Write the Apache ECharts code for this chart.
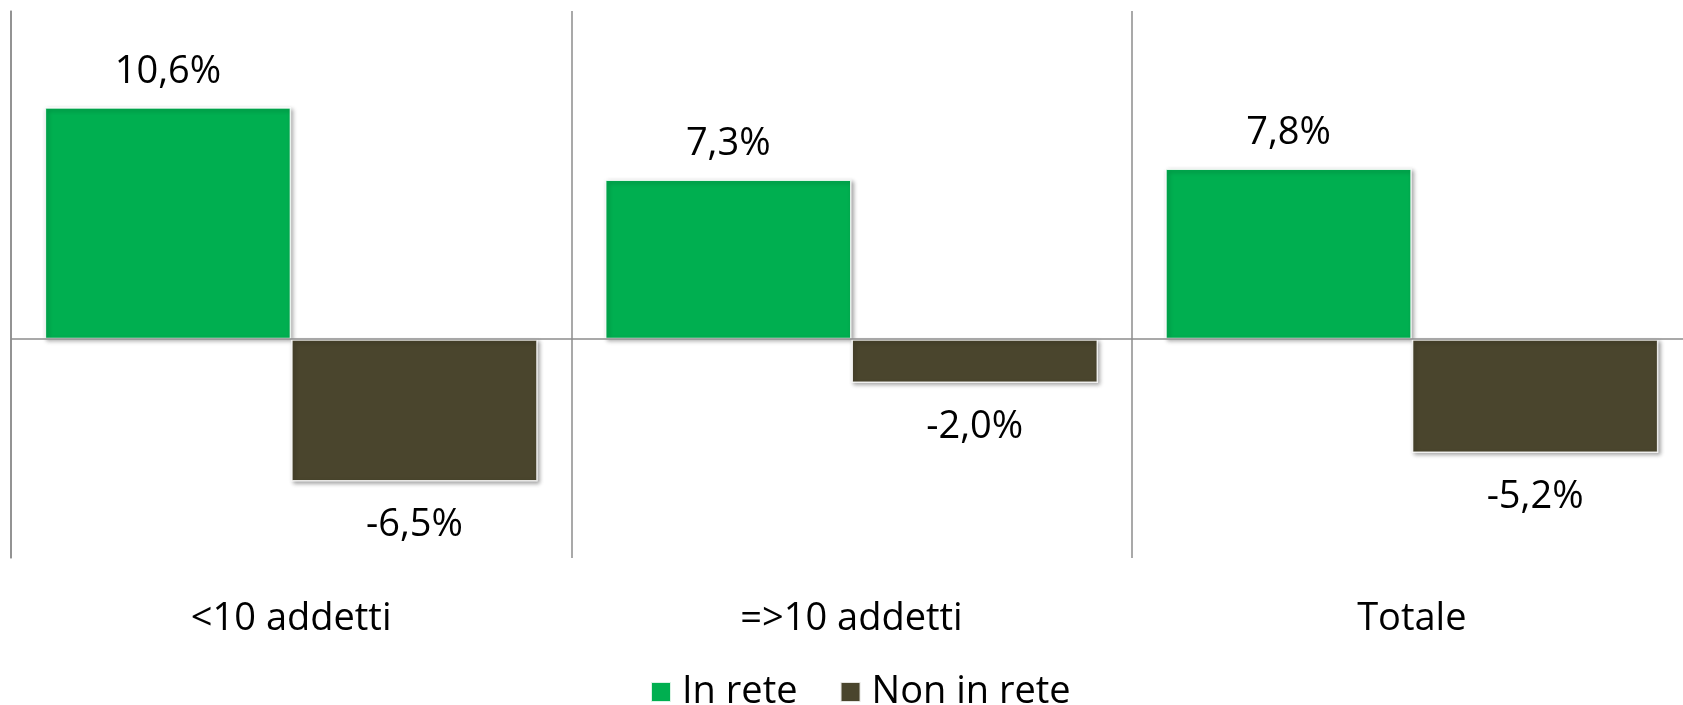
<!DOCTYPE html>
<html>
<head>
<meta charset="utf-8">
<style>
  html, body { margin: 0; padding: 0; background: #fff; }
  #chart { width: 1683px; height: 705px; }
</style>
<script src="https://cdn.jsdelivr.net/npm/echarts@6/dist/echarts.min.js"></script>
</head>
<body>
<div id="chart"></div>
<script>
// categories and values
const categories = ["<10 addetti", "=>10 addetti", "Totale"];
const inRete = [10.6, 7.3, 7.8];
const nonInRete = [-6.5, -2.0, -5.2];
const seriesNames = ["In rete", "Non in rete"];

const FONT = "Open Sans";
const AXIS_GREY = "#8c8c8c";

function pct(v) {
  return v.toFixed(1).replace(".", ",") + "%";
}

const barStyle = function (color) {
  return {
    color: color,
    borderColor: "rgba(255,255,255,0.85)",
    borderWidth: 1.5,
    shadowBlur: 4,
    shadowOffsetX: 2,
    shadowOffsetY: 2,
    shadowColor: "rgba(0,0,0,0.35)"
  };
};

const chart = echarts.init(document.getElementById("chart"));
chart.setOption({
  backgroundColor: "#fff",
  animation: false,
  textStyle: { fontFamily: FONT },
  grid: { left: 11, top: 11, right: -9, bottom: 147, outerBoundsMode: "none" },
  legend: {
    data: seriesNames,
    left: 645,
    top: 668,
    itemWidth: 20,
    itemHeight: 20,
    itemGap: 42,
    icon: "rect",
    textStyle: { fontFamily: FONT, fontSize: 38, color: "#000", padding: [0, 0, 0, 6] }
  },
  xAxis: {
    type: "category",
    data: categories,
    axisLine: { show: false, onZero: false },
    axisTick: { show: false },
    splitLine: { show: true, lineStyle: { color: AXIS_GREY, width: 1.5 } },
    axisLabel: { fontFamily: FONT, fontSize: 38, color: "#000", margin: 42 }
  },
  yAxis: {
    type: "value",
    min: -10,
    max: 15,
    interval: 5,
    axisLine: { show: true, lineStyle: { color: AXIS_GREY, width: 1.5 } },
    axisTick: { show: false },
    axisLabel: { show: false },
    splitLine: { show: false }
  },
  series: [
    {
      name: seriesNames[0],
      type: "bar",
      data: inRete,
      barGap: "0%",
      barCategoryGap: "12%",
      itemStyle: barStyle("#00AF50"),
      label: {
        show: true,
        position: "top",
        distance: 16,
        fontFamily: FONT,
        fontSize: 38,
        color: "#000",
        formatter: function (p) { return pct(p.value); }
      },
      markLine: {
        silent: true,
        symbol: ["none", "none"],
        label: { show: false },
        lineStyle: { color: AXIS_GREY, width: 1.5, type: "solid" },
        data: [{ yAxis: 0 }]
      }
    },
    {
      name: seriesNames[1],
      type: "bar",
      data: nonInRete,
      barGap: "0%",
      barCategoryGap: "12%",
      itemStyle: barStyle("#4A452D"),
      label: {
        show: true,
        position: "bottom",
        distance: 25,
        fontFamily: FONT,
        fontSize: 38,
        color: "#000",
        formatter: function (p) { return pct(p.value); }
      }
    }
  ]
});
</script>
</body>
</html>
